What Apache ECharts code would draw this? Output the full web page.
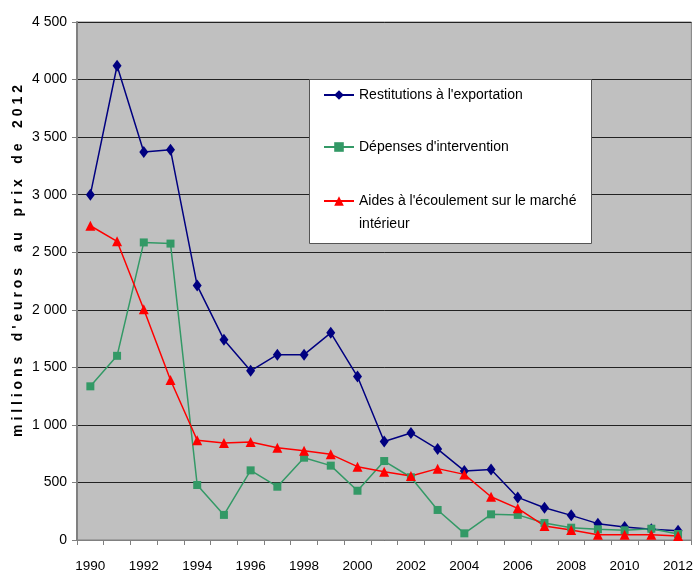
<!DOCTYPE html>
<html>
<head>
<meta charset="utf-8">
<script src="https://cdn.jsdelivr.net/npm/echarts@6/dist/echarts.min.js"></script>
<style>
  html, body { margin: 0; padding: 0; background: #fff; }
  #chart { width: 696px; height: 573px; }
</style>
</head>
<body>
<div id="chart"></div>
<script>
const years = ['1990', '1991', '1992', '1993', '1994', '1995', '1996', '1997', '1998', '1999', '2000',
  '2001', '2002', '2003', '2004', '2005', '2006', '2007', '2008', '2009', '2010', '2011', '2012'];

const restitutions = [3000, 4120, 3370, 3390, 2210, 1740, 1470, 1610, 1610, 1800, 1420,
  855, 930, 790, 600, 612, 370, 280, 214, 142, 113, 93, 80];
const depenses = [1335, 1600, 2585, 2575, 478, 218, 605, 463, 715, 646, 428,
  686, 545, 261, 58, 223, 218, 148, 107, 93, 84, 98, 52];
const aides = [2730, 2595, 2005, 1390, 866, 843, 851, 802, 776, 744, 637,
  593, 556, 620, 570, 376, 275, 122, 87, 45, 45, 45, 35];

const names = [
  "Restitutions à l'exportation",
  "Dépenses d'intervention",
  "Aides à l'écoulement sur le marché"
];
// spaced out letters, the original title is drawn with wide letter spacing
const yTitle = "m i l l i o n s    d ' e u r o s    a u    p r i x    d e    2 0 1 2";

const font = 'Arial, "Liberation Sans", sans-serif';
const fmt = v => String(v).replace(/\B(?=(\d{3})+(?!\d))/g, ' ');

const chart = echarts.init(document.getElementById('chart'));

function legendAt(name, top, formatter) {
  return {
    data: [name],
    left: 323,
    top: top,
    orient: 'vertical',
    itemWidth: 30,
    itemHeight: 12,
    itemGap: 5,
    padding: 0,
    z: 6,
    formatter: formatter || '{name}',
    textStyle: { fontFamily: font, fontSize: 14, color: '#000', lineHeight: 23 }
  };
}

chart.setOption({
  animation: false,
  grid: {
    left: 77, right: 2, top: 22, bottom: 33,
    show: true,
    backgroundColor: '#c0c0c0',
    borderColor: '#808080',
    borderWidth: 1
  },
  legend: [
    legendAt(names[0], 83.5),
    legendAt(names[1], 135.5),
    legendAt(names[2], 166.5, () => "\nAides à l'écoulement sur le marché\nintérieur")
  ],
  graphic: [
    {
      type: 'rect',
      left: 309, top: 79,
      shape: { width: 282, height: 164 },
      style: { fill: '#fff', stroke: '#555', lineWidth: 1 },
      z: 3
    },
    {
      type: 'text',
      x: 18, y: 261,
      rotation: Math.PI / 2,
      style: {
        text: yTitle,
        font: 'bold 14px ' + font,
        fill: '#000',
        align: 'center',
        verticalAlign: 'middle'
      }
    }
  ],
  xAxis: {
    type: 'category',
    data: years,
    boundaryGap: true,
    axisLine: { lineStyle: { color: '#808080', width: 1 } },
    axisTick: { show: true, interval: 0, length: 5, lineStyle: { color: '#808080' } },
    axisLabel: { interval: 1, margin: 19, fontFamily: font, fontSize: 13.5, color: '#000' },
    splitLine: { show: false }
  },
  yAxis: {
    type: 'value',
    min: 0, max: 4500, interval: 500,
    axisLine: { show: true, lineStyle: { color: '#808080', width: 2 } },
    axisTick: { show: true, length: 5, lineStyle: { color: '#808080' } },
    axisLabel: { margin: 10, fontFamily: font, fontSize: 14, color: '#000', formatter: fmt },
    splitLine: { show: true, lineStyle: { color: '#222', width: 1 } }
  },
  series: [
    {
      name: names[0], type: 'line', data: restitutions,
      symbol: 'diamond', symbolSize: [9, 12],
      lineStyle: { color: '#000080', width: 1.5 },
      itemStyle: { color: '#000080' }
    },
    {
      name: names[1], type: 'line', data: depenses,
      symbol: 'rect', symbolSize: 8,
      lineStyle: { color: '#339966', width: 1.5 },
      itemStyle: { color: '#339966' }
    },
    {
      name: names[2], type: 'line', data: aides,
      symbol: 'triangle', symbolSize: 10,
      lineStyle: { color: '#ff0000', width: 1.5 },
      itemStyle: { color: '#ff0000' }
    }
  ]
});
</script>
</body>
</html>
